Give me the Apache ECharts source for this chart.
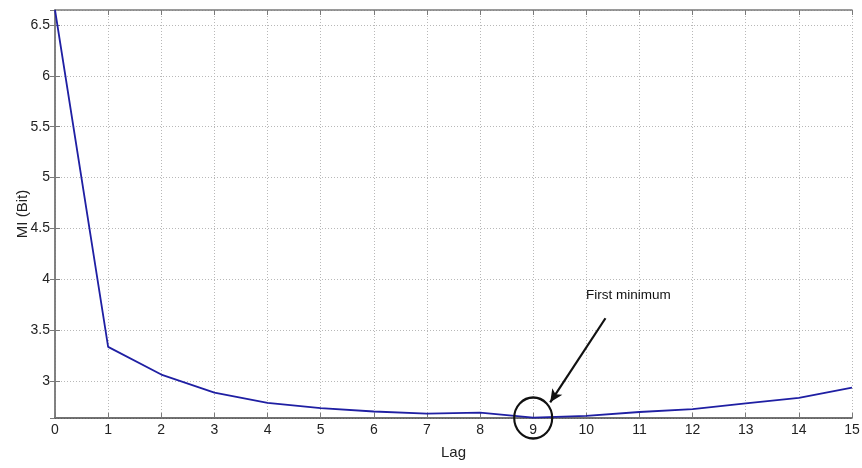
<!DOCTYPE html>
<html>
<head>
<meta charset="utf-8">
<script src="https://cdn.jsdelivr.net/npm/echarts@6/dist/echarts.min.js"></script>
<style>html,body{margin:0;padding:0;background:#fff}#c{width:862px;height:468px}</style>
</head>
<body>
<div id="c"></div>
<script>
const lags = [0,1,2,3,4,5,6,7,8,9,10,11,12,13,14,15];
const mi = [6.648,3.335,3.063,2.886,2.784,2.734,2.700,2.680,2.688,2.640,2.656,2.695,2.724,2.780,2.833,2.935];
const yMin = 2.636, yMax = 6.648;
const xMin = 0, xMax = 15;
const annotText = 'First minimum';
const annotTextAt = [10.79, 3.84];
const arrowFrom = [10.36, 3.617];
const arrowTo = [9.32, 2.79];
const circleAt = [9, 2.636];

const font = 'Liberation Sans, Arial, sans-serif';
const frame = '#7a7a7a';
const chart = echarts.init(document.getElementById('c'));
const axBase = {
  type: 'value', min: xMin, max: xMax, interval: 1,
  axisLine: {show: true, lineStyle: {color: frame, width: 1.5}},
  axisTick: {show: true, inside: true, length: 5, lineStyle: {color: frame}}
};
chart.setOption({
  animation: false,
  grid: {left: 55, right: 10, top: 10, bottom: 50, outerBoundsMode: 'none', containLabel: false},
  xAxis: [
    Object.assign({}, axBase, {
      position: 'bottom',
      axisLine: {show: true, onZero: false, lineStyle: {color: '#444', width: 1.5}},
      axisLabel: {color: '#222', fontSize: 14, fontFamily: font, margin: 5},
      splitLine: {show: true, lineStyle: {color: '#b8b8b8', type: [1, 2], width: 1}},
      name: 'Lag', nameLocation: 'middle', nameGap: 27, nameMoveOverlap: false,
      nameTextStyle: {color: '#222', fontSize: 15, fontFamily: font}
    }),
    Object.assign({}, axBase, {
      position: 'top',
      axisLabel: {show: false}, splitLine: {show: false}
    })
  ],
  yAxis: [
    {
      type: 'value', min: yMin, max: yMax, splitNumber: 8, position: 'left',
      axisLine: {show: true, lineStyle: {color: frame, width: 1.5}},
      axisTick: {show: true, inside: true, length: 5, lineStyle: {color: frame}},
      axisLabel: {color: '#222', fontSize: 14, fontFamily: font, margin: 5,
        showMinLabel: false, showMaxLabel: false},
      splitLine: {show: true, lineStyle: {color: '#b8b8b8', type: [1, 2], width: 1}},
      name: 'MI (Bit)', nameLocation: 'middle', nameGap: 25, nameRotate: 90, nameMoveOverlap: false,
      nameTextStyle: {color: '#222', fontSize: 15, fontFamily: font}
    },
    {
      type: 'value', min: yMin, max: yMax, splitNumber: 8, position: 'right',
      axisLine: {show: true, lineStyle: {color: frame, width: 1.5}},
      axisTick: {show: true, inside: true, length: 5, lineStyle: {color: frame}},
      axisLabel: {show: false}, splitLine: {show: false}
    }
  ],
  series: [{
    type: 'line',
    data: lags.map((l, i) => [l, mi[i]]),
    showSymbol: false,
    symbol: 'none',
    lineStyle: {color: '#1f1fa3', width: 1.8},
    clip: false,
    markLine: {
      silent: true,
      symbol: ['none', 'arrow'], symbolSize: [9, 13],
      label: {show: false},
      lineStyle: {color: '#111', width: 2.2, type: 'solid'},
      data: [[{coord: arrowFrom}, {coord: arrowTo}]]
    },
    markPoint: {
      silent: true,
      data: [
        {coord: circleAt, symbol: 'circle', symbolSize: [38, 41],
          itemStyle: {color: 'rgba(0,0,0,0)', borderColor: '#111', borderWidth: 2.2},
          label: {show: false}},
        {coord: annotTextAt, symbol: 'circle', symbolSize: 0,
          label: {show: true, position: 'inside', formatter: annotText,
            color: '#111', fontSize: 13.5, fontFamily: font}}
      ]
    }
  }]
});
</script>
</body>
</html>
